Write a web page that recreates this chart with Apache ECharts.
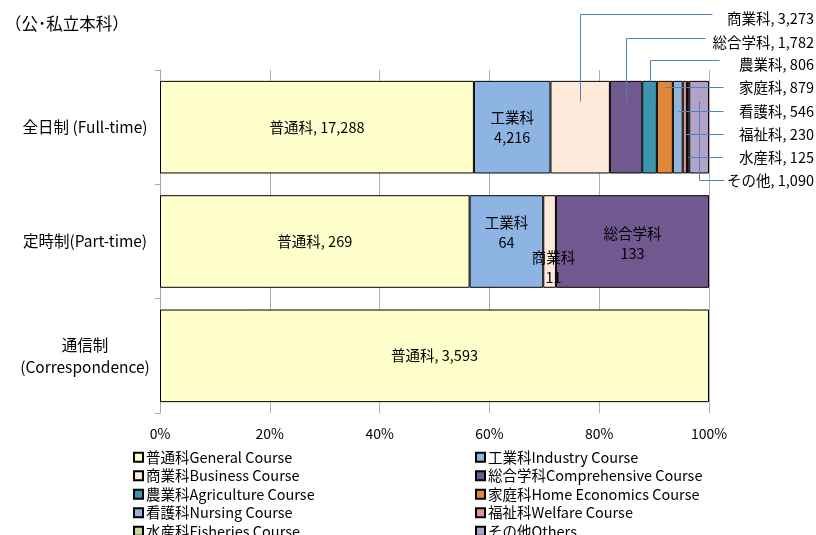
<!DOCTYPE html>
<html><head><meta charset="utf-8">
<script src="https://cdn.jsdelivr.net/npm/echarts@6/dist/echarts.min.js"></script>
<style>html,body{margin:0;padding:0;background:#fff}#c{width:816px;height:535px}</style>
</head><body><div id="c"></div>
<script>
const categories = ['全日制 (Full-time)', '定時制(Part-time)', '通信制\n(Correspondence)'];
const courseNames = ['普通科','工業科','商業科','総合学科','農業科','家庭科','看護科','福祉科','水産科','その他'];
const legendNames = ['普通科General Course','工業科Industry Course','商業科Business Course','総合学科Comprehensive Course','農業科Agriculture Course','家庭科Home Economics Course','看護科Nursing Course','福祉科Welfare Course','水産科Fisheries Course','その他Others'];
const general = [17288, 269, 3593];
const industry = [4216, 64, 0];
const business = [3273, 11, 0];
const comprehensive = [1782, 133, 0];
const agriculture = [806, 0, 0];
const homeEconomics = [879, 0, 0];
const nursing = [546, 0, 0];
const welfare = [230, 0, 0];
const fisheries = [125, 0, 0];
const others = [1090, 0, 0];
const xTicks = [0, 20, 40, 60, 80, 100];

const allSeries = [general, industry, business, comprehensive, agriculture, homeEconomics, nursing, welfare, fisheries, others];
const colors = ['#FFFFCC','#8EB4E3','#FDE9D9','#71588F','#3D96AB','#E0873C','#95B3D7','#D99694','#C3D69B','#B3A2C7'];
const FONT = '"Noto Sans CJK JP", "Noto Sans", sans-serif';
const LABEL_SIZE = 14.5;

const totals = categories.map((_, c) => allSeries.reduce((a, s) => a + s[c], 0));
const fmt = n => n.toLocaleString('en-US');

// label style per (series, category)
const inlineLabel = new Set(['0-0','0-1','0-2']);
const twoLineLabel = {'1-0':[0,0],'1-1':[0,-9],'3-1':[0,2],'2-1':[4,26]};
const extLabelY = {2:18, 3:42, 4:64, 5:87, 6:111, 7:134, 8:157, 9:180};
const lineEndX = {2:712, 3:705, 4:719, 5:723, 6:723, 7:723, 8:722, 9:724};
const lineKind = {2:'up', 3:'up', 4:'up', 5:'h', 6:'h', 7:'h', 8:'h', 9:'down'};

const series = allSeries.map((arr, s) => ({
  type: 'bar',
  name: legendNames[s],
  stack: 'total',
  barWidth: '81%',
  itemStyle: { color: colors[s], borderColor: '#000', borderWidth: 1 },
  labelLayout: function (p) {
    if (p.dataIndex === 0 && extLabelY[s] != null) {
      return { x: 814, y: extLabelY[s], align: 'right', verticalAlign: 'middle' };
    }
    const off = twoLineLabel[s + '-' + p.dataIndex];
    if (off) return { dx: off[0], dy: off[1] };
    return {};
  },
  data: arr.map((v, c) => {
    const key = s + '-' + c;
    const item = { value: v ? v / totals[c] * 100 : null };
    let label = { show: false };
    if (inlineLabel.has(key)) {
      label = { show: true, position: 'inside', formatter: courseNames[s] + ', ' + fmt(v) };
    } else if (twoLineLabel[key]) {
      label = { show: true, position: 'inside', formatter: courseNames[s] + '\n' + fmt(v), lineHeight: 20 };
    } else if (c === 0 && extLabelY[s] != null) {
      label = { show: true, position: 'inside', formatter: courseNames[s] + ', ' + fmt(v) };
    }
    label.color = '#000';
    label.fontSize = LABEL_SIZE;
    label.fontFamily = FONT;
    item.label = label;
    return item;
  })
}));

const chart = echarts.init(document.getElementById('c'));
const legendCommon = {
  orient: 'vertical', itemWidth: 9, itemHeight: 9, itemGap: 4, selectedMode: false,
  icon: 'rect', padding: 0, height: 100,
  textStyle: { fontSize: 14.5, lineHeight: 14, color: '#000', fontFamily: FONT, padding: [0,0,0,-2] }
};
chart.setOption({
  animation: false,
  textStyle: { fontFamily: FONT },
  title: { text: '（公･私立本科）', left: 0, top: 10, textStyle: { fontSize: 16.5, fontWeight: 'normal', color: '#000', fontFamily: FONT } },
  grid: { left: 160, right: 107, top: 70, bottom: 122 },
  legend: [
    Object.assign({ left: 133, top: 450, data: legendNames.filter((_, i) => i % 2 === 0) }, legendCommon),
    Object.assign({ left: 475, top: 450, data: legendNames.filter((_, i) => i % 2 === 1) }, legendCommon)
  ],
  xAxis: {
    type: 'value', min: xTicks[0], max: xTicks[xTicks.length - 1], interval: xTicks[1] - xTicks[0],
    axisLine: { show: false }, axisTick: { show: false },
    splitLine: { show: true, lineStyle: { color: '#B0B0B0', width: 1 } },
    axisLabel: { formatter: '{value}%', color: '#000', fontSize: 14, margin: 14, fontFamily: FONT }
  },
  yAxis: {
    type: 'category', inverse: true, data: categories,
    axisLine: { show: true, lineStyle: { color: '#A6A6A6' } },
    axisTick: { show: true, length: 5, lineStyle: { color: '#A6A6A6' } },
    axisLabel: { color: '#000', fontSize: 15.5, align: 'center', margin: 75, lineHeight: 22, fontFamily: FONT }
  },
  series: series
});

// leader lines for the small full-time segments
const px = (v, c) => chart.convertToPixel({ gridIndex: 0 }, [v, c]);
const band = px(0, 1)[1] - px(0, 0)[1];
const barTop = px(0, 0)[1] - band * 0.81 / 2;
const r = v => Math.round(v) + 0.5;
const graphics = [];
let cum = 0;
allSeries.forEach((arr, s) => {
  const pct = arr[0] / totals[0] * 100;
  const x0 = px(cum, 0)[0];
  cum += pct;
  const x1 = px(cum, 0)[0];
  if (extLabelY[s] == null) return;
  const cx = r((x0 + x1) / 2);
  const ly = extLabelY[s];
  let pts;
  if (lineKind[s] === 'up') pts = [[cx, r(barTop + 20)], [cx, r(ly - 4)], [r(lineEndX[s]), r(ly - 4)]];
  else if (lineKind[s] === 'h') pts = [[cx, r(ly)], [r(lineEndX[s]), r(ly)]];
  else pts = [[cx, r(barTop + 20)], [cx, r(ly)], [r(lineEndX[s]), r(ly)]];
  graphics.push({ type: 'polyline', shape: { points: pts }, style: { stroke: '#4F81BD', lineWidth: 1, fill: null }, z: 100 });
});
chart.setOption({ graphic: graphics });
</script>
</body></html>
